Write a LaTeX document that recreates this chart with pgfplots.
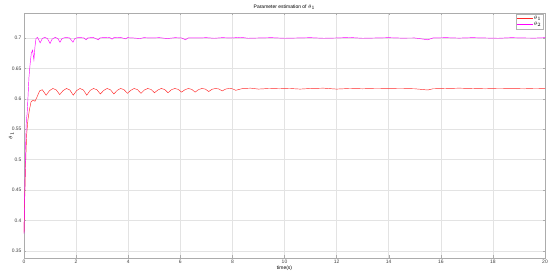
\documentclass[border=0pt]{standalone}
\usepackage{pgfplots}
\pgfplotsset{compat=1.18}
\usepackage{fontspec}
\setmainfont{Liberation Sans}
\definecolor{matred}{RGB}{255,40,40}
\definecolor{matmag}{RGB}{255,0,255}
\begin{document}
\begin{tikzpicture}
\begin{axis}[
  scale only axis,
  width=521bp, height=245bp,
  xmin=0, xmax=20, ymin=0.3385, ymax=0.741,
  xtick={0,2,...,20},
  ytick={0.35,0.4,0.45,0.5,0.55,0.6,0.65,0.7},
  yticklabels={0.35,0.4,0.45,0.5,0.55,0.6,0.65,0.7},
  /pgf/number format/assume math mode=true,
  font=\fontsize{5}{6}\selectfont,
  tick label style={font=\fontsize{5}{6}\selectfont, text=black!75},
  xticklabel style={yshift=1bp},
  yticklabel style={xshift=1bp},
  grid=major,
  major grid style={gray!22, line width=0.5pt},
  axis line style={gray!65, line width=0.5pt},
  tick style={gray!65, line width=0.4pt},
  tick align=inside,
  major tick length=2.5bp,
  title={Parameter estimation of $\theta_1$},
  title style={yshift=-6bp, font=\fontsize{5}{6}\selectfont},
  xlabel={time(s)},
  xlabel style={yshift=5bp},
  ylabel={$\theta_1$},
  ylabel style={yshift=-9bp},
  legend style={at={(0.997,0.997)}, anchor=north east, draw=gray!60,
    font=\fontsize{3.5}{4}\selectfont, inner sep=1pt, row sep=-1pt,
    nodes={inner sep=1pt}},
  legend cell align=left,
  legend image post style={xscale=0.9},
]
\addplot[matred, line width=0.45pt] coordinates {
(0,0.38) (0.03,0.44) (0.06,0.49) (0.1,0.54) (0.15,0.565) (0.2,0.58) (0.27,0.595)
(0.35,0.598) (0.42,0.596) (0.5,0.603) (0.6,0.613) (0.7,0.615) (0.85,0.606)
(0.98,0.6135) (1.11,0.617) (1.24,0.6145) (1.37,0.607)
(1.50,0.6135) (1.63,0.617) (1.76,0.6145) (1.89,0.606)
(2.02,0.6135) (2.15,0.617) (2.28,0.6145) (2.41,0.606)
(2.54,0.6138) (2.67,0.617) (2.80,0.6148) (2.93,0.608)
(3.06,0.6138) (3.19,0.617) (3.32,0.6148) (3.45,0.608)
(3.58,0.614) (3.71,0.617) (3.84,0.615) (3.97,0.609)
(4.10,0.614) (4.23,0.617) (4.36,0.615) (4.49,0.609)
(4.62,0.6145) (4.75,0.617) (4.88,0.6153) (5.01,0.610)
(5.14,0.6145) (5.27,0.617) (5.40,0.6153) (5.53,0.610)
(5.66,0.615) (5.79,0.617) (5.92,0.6155) (6.05,0.611)
(6.18,0.615) (6.31,0.617) (6.44,0.6155) (6.57,0.611)
(6.70,0.6152) (6.83,0.617) (6.96,0.616) (7.09,0.612)
(7.22,0.6157) (7.35,0.617) (7.48,0.6162) (7.61,0.613)
(7.74,0.616) (7.87,0.617) (8.00,0.6165) (8.13,0.614)
(8.4,0.617) (8.7,0.6175) (9.0,0.616) (9.4,0.617) (9.8,0.6165) (10.2,0.617)
(10.6,0.616) (11.0,0.617) (11.5,0.6175) (12.0,0.616) (12.5,0.617) (13.0,0.6165)
(13.5,0.617) (14.0,0.6168) (14.5,0.617) (15.0,0.6165) (15.5,0.6145) (15.7,0.6165)
(16.2,0.617) (16.7,0.6175) (17.2,0.617) (17.7,0.6165) (18.2,0.617) (18.7,0.6168)
(19.2,0.6165) (19.6,0.617) (20,0.6168)
};
\addlegendentry{$\theta_1$}
\addplot[matmag, line width=0.45pt] coordinates {
(0,0.378) (0.03,0.45) (0.06,0.52) (0.09,0.565) (0.12,0.575) (0.15,0.6) (0.19,0.635)
(0.23,0.655) (0.28,0.675) (0.33,0.68) (0.38,0.664) (0.42,0.685)
(0.46,0.699) (0.52,0.701) (0.62,0.692) (0.7,0.699) (0.8,0.701) (0.9,0.699)
(1.0,0.691) (1.08,0.698) (1.2,0.701) (1.3,0.699) (1.38,0.693) (1.46,0.699)
(1.6,0.701) (1.75,0.700) (1.88,0.693) (1.95,0.699) (2.1,0.701) (2.3,0.700)
(2.38,0.697) (2.45,0.700) (2.65,0.701) (2.85,0.697) (2.92,0.700) (3.1,0.701)
(3.3,0.7005) (3.38,0.698) (3.45,0.7005) (3.7,0.701) (3.9,0.6985) (3.97,0.7005)
(4.2,0.700) (4.45,0.699) (4.6,0.7005) (4.9,0.700) (5.2,0.7005) (5.5,0.699)
(5.8,0.7005) (6.05,0.700) (6.2,0.697) (6.3,0.700) (6.7,0.700) (7.0,0.7005)
(7.3,0.6995) (7.6,0.7005) (8.0,0.700) (8.3,0.7012) (8.6,0.6995) (9.0,0.700)
(9.5,0.7005) (10.0,0.6995) (10.5,0.700) (11.0,0.7005) (11.5,0.6995) (12.0,0.700)
(12.5,0.7008) (13.0,0.6995) (13.5,0.700) (14.0,0.7005) (14.5,0.6998) (15.0,0.700)
(15.5,0.697) (15.7,0.700) (16.2,0.7005) (16.7,0.6998) (17.2,0.7005) (17.7,0.700)
(18.2,0.6995) (18.7,0.7005) (19.2,0.700) (19.6,0.6998) (20,0.7005)
};
\addlegendentry{$\theta_2$}
\end{axis}
\pgfresetboundingbox
\path (-24bp,-19bp) rectangle (526bp,258bp);
\end{tikzpicture}
\end{document}
